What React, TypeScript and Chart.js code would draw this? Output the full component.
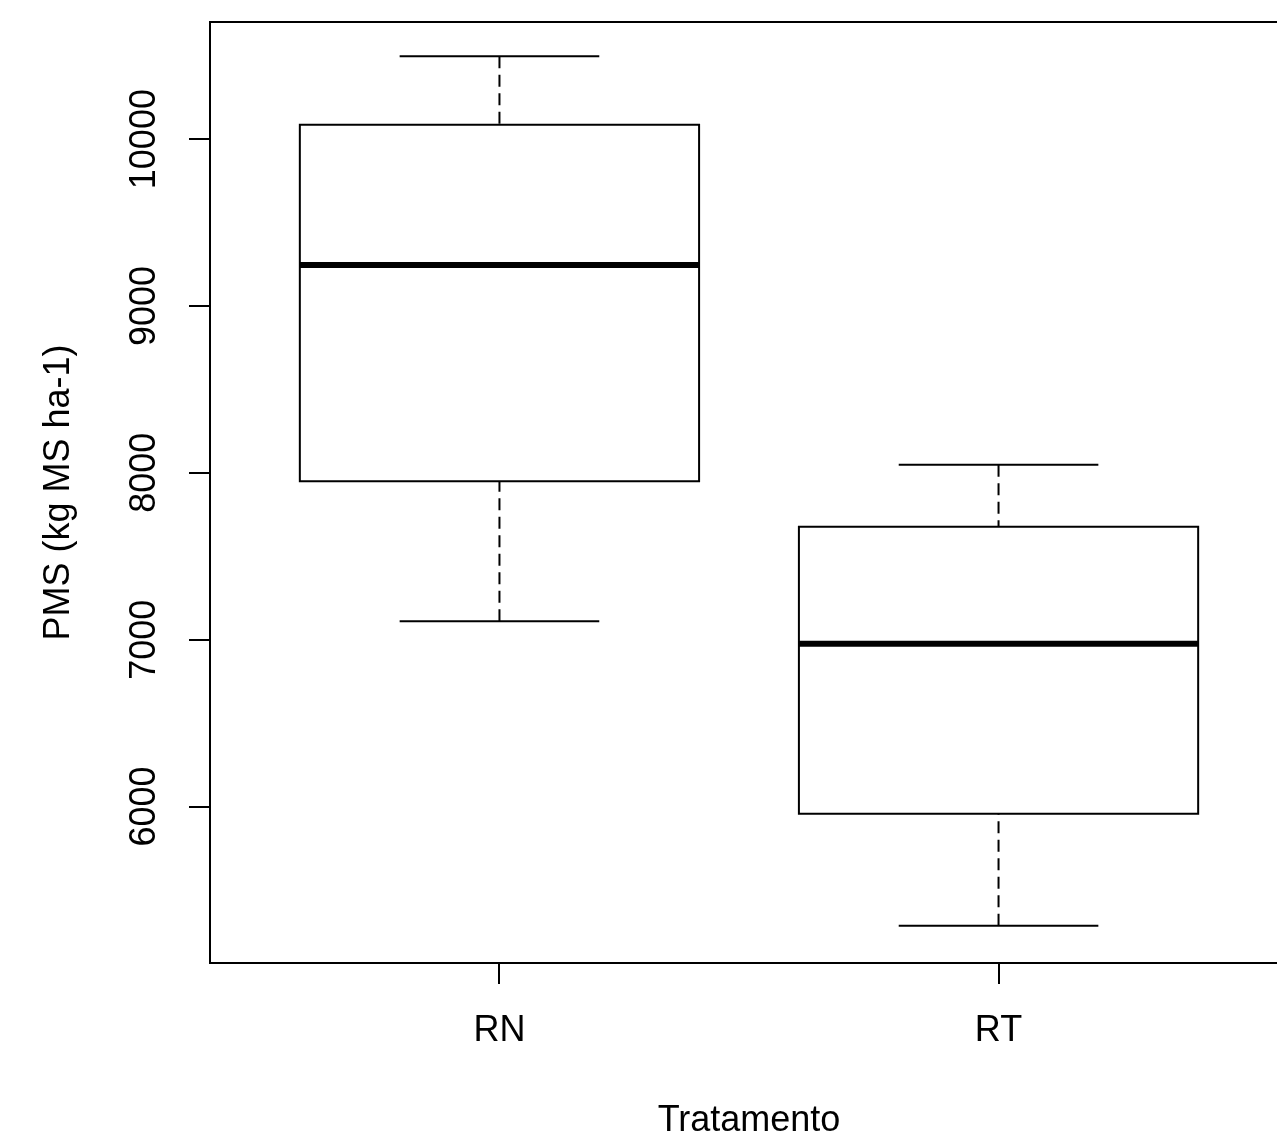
import React, { useEffect, useRef } from 'react';
import { Chart, registerables } from 'chart.js';

Chart.register(...registerables);

// ---- data ----
const CATEGORIES = ['RN', 'RT'];
const WHISKER_LOW = [7110, 5285];
const Q1 = [7949, 5956];
const MEDIAN = [9245, 6975];
const Q3 = [10086, 7676];
const WHISKER_HIGH = [10497, 8048];
const Y_TICKS = [6000, 7000, 8000, 9000, 10000];

const Y_MIN = 5062;
const Y_MAX = 10702;
const X_MIN = 0.42;
const X_MAX = 2.58;

const BOX_HALF = 0.4;
const CAP_HALF = 0.2;
const FONT_FAMILY = '"Liberation Sans", Arial, Helvetica, sans-serif';
const FONT = { family: FONT_FAMILY, size: 36 };

function buildDatasets() {
  const base = {
    showLine: true,
    pointRadius: 0,
    pointHoverRadius: 0,
    pointHitRadius: 0,
    borderColor: '#000',
    backgroundColor: 'transparent',
    fill: false,
    tension: 0,
    borderWidth: 2,
  };
  const ds: any[] = [];
  CATEGORIES.forEach((_, i) => {
    const x = i + 1;
    // upper whisker (dashed), from whisker end to box
    ds.push({ ...base, borderDash: [12, 6.5], borderCapStyle: 'butt', data: [{ x, y: WHISKER_HIGH[i] }, { x, y: Q3[i] }] });
    // lower whisker (dashed)
    ds.push({ ...base, borderDash: [12, 6.5], borderCapStyle: 'butt', data: [{ x, y: WHISKER_LOW[i] }, { x, y: Q1[i] }] });
    // caps
    ds.push({ ...base, borderCapStyle: 'butt', data: [{ x: x - CAP_HALF, y: WHISKER_HIGH[i] }, { x: x + CAP_HALF, y: WHISKER_HIGH[i] }] });
    ds.push({ ...base, borderCapStyle: 'butt', data: [{ x: x - CAP_HALF, y: WHISKER_LOW[i] }, { x: x + CAP_HALF, y: WHISKER_LOW[i] }] });
    // box
    ds.push({
      ...base,
      borderCapStyle: 'square',
      borderJoinStyle: 'miter',
      data: [
        { x: x - BOX_HALF, y: Q1[i] },
        { x: x + BOX_HALF, y: Q1[i] },
        { x: x + BOX_HALF, y: Q3[i] },
        { x: x - BOX_HALF, y: Q3[i] },
        { x: x - BOX_HALF, y: Q1[i] },
      ],
    });
    // median
    ds.push({ ...base, borderWidth: 6, borderCapStyle: 'butt', data: [{ x: x - BOX_HALF, y: MEDIAN[i] }, { x: x + BOX_HALF, y: MEDIAN[i] }] });
  });
  return ds;
}

const framePlugin = {
  id: 'frame',
  afterDraw(chart: any) {
    const { ctx, chartArea: a } = chart;
    ctx.save();
    ctx.strokeStyle = '#000';
    ctx.lineWidth = 2;
    ctx.strokeRect(a.left, a.top, a.right - a.left, a.bottom - a.top);
    ctx.restore();
  },
};

export default function App() {
  const ref = useRef<HTMLCanvasElement | null>(null);

  useEffect(() => {
    if (!ref.current) return;
    Chart.defaults.font.family = FONT_FAMILY;
    const gridOpts = {
      drawOnChartArea: false,
      drawTicks: true,
      tickLength: 21,
      tickWidth: 2,
      tickColor: '#000',
      lineWidth: 2,
      color: '#000',
    };
    const chart = new Chart(ref.current, {
      type: 'scatter',
      data: { datasets: buildDatasets() },
      plugins: [framePlugin],
      options: {
        responsive: false,
        animation: false,
        events: [],
        layout: { padding: { top: 22, right: 12, bottom: 0, left: 0 } },
        plugins: {
          legend: { display: false },
          tooltip: { enabled: false },
        },
        scales: {
          x: {
            type: 'linear',
            min: X_MIN,
            max: X_MAX,
            afterBuildTicks: (s: any) => {
              s.ticks = CATEGORIES.map((_, i) => ({ value: i + 1 }));
            },
            afterFit: (s: any) => {
              s.height = 175;
            },
            border: { display: false },
            grid: gridOpts,
            ticks: {
              callback: (v: any) => CATEGORIES[Math.round(Number(v)) - 1] ?? '',
              font: FONT,
              color: '#000',
              padding: 25.4,
              autoSkip: false,
              minRotation: 0,
              maxRotation: 0,
            },
            title: {
              display: true,
              text: 'Tratamento',
              font: FONT,
              color: '#000',
              padding: { top: 0, bottom: -5 },
            },
          },
          y: {
            type: 'linear',
            min: Y_MIN,
            max: Y_MAX,
            afterBuildTicks: (s: any) => {
              s.ticks = Y_TICKS.map((v) => ({ value: v }));
            },
            afterFit: (s: any) => {
              s.width = 210;
            },
            border: { display: false },
            grid: gridOpts,
            ticks: {
              callback: (v: any) => String(v),
              font: FONT,
              color: '#000',
              minRotation: 90,
              maxRotation: 90,
              crossAlign: 'center',
              padding: -6,
              autoSkip: false,
            },
            title: {
              display: true,
              text: 'PMS (kg MS ha-1)',
              font: FONT,
              color: '#000',
              padding: { top: 37, bottom: 0 },
            },
          },
        },
      } as any,
    });
    return () => chart.destroy();
  }, []);

  return (
    <div
      style={{
        position: 'fixed',
        left: 0,
        top: 0,
        width: 1277,
        height: 1138,
        overflow: 'hidden',
        background: '#fff',
      }}
    >
      <canvas ref={ref} width={1300} height={1138} style={{ display: 'block' }} />
    </div>
  );
}
